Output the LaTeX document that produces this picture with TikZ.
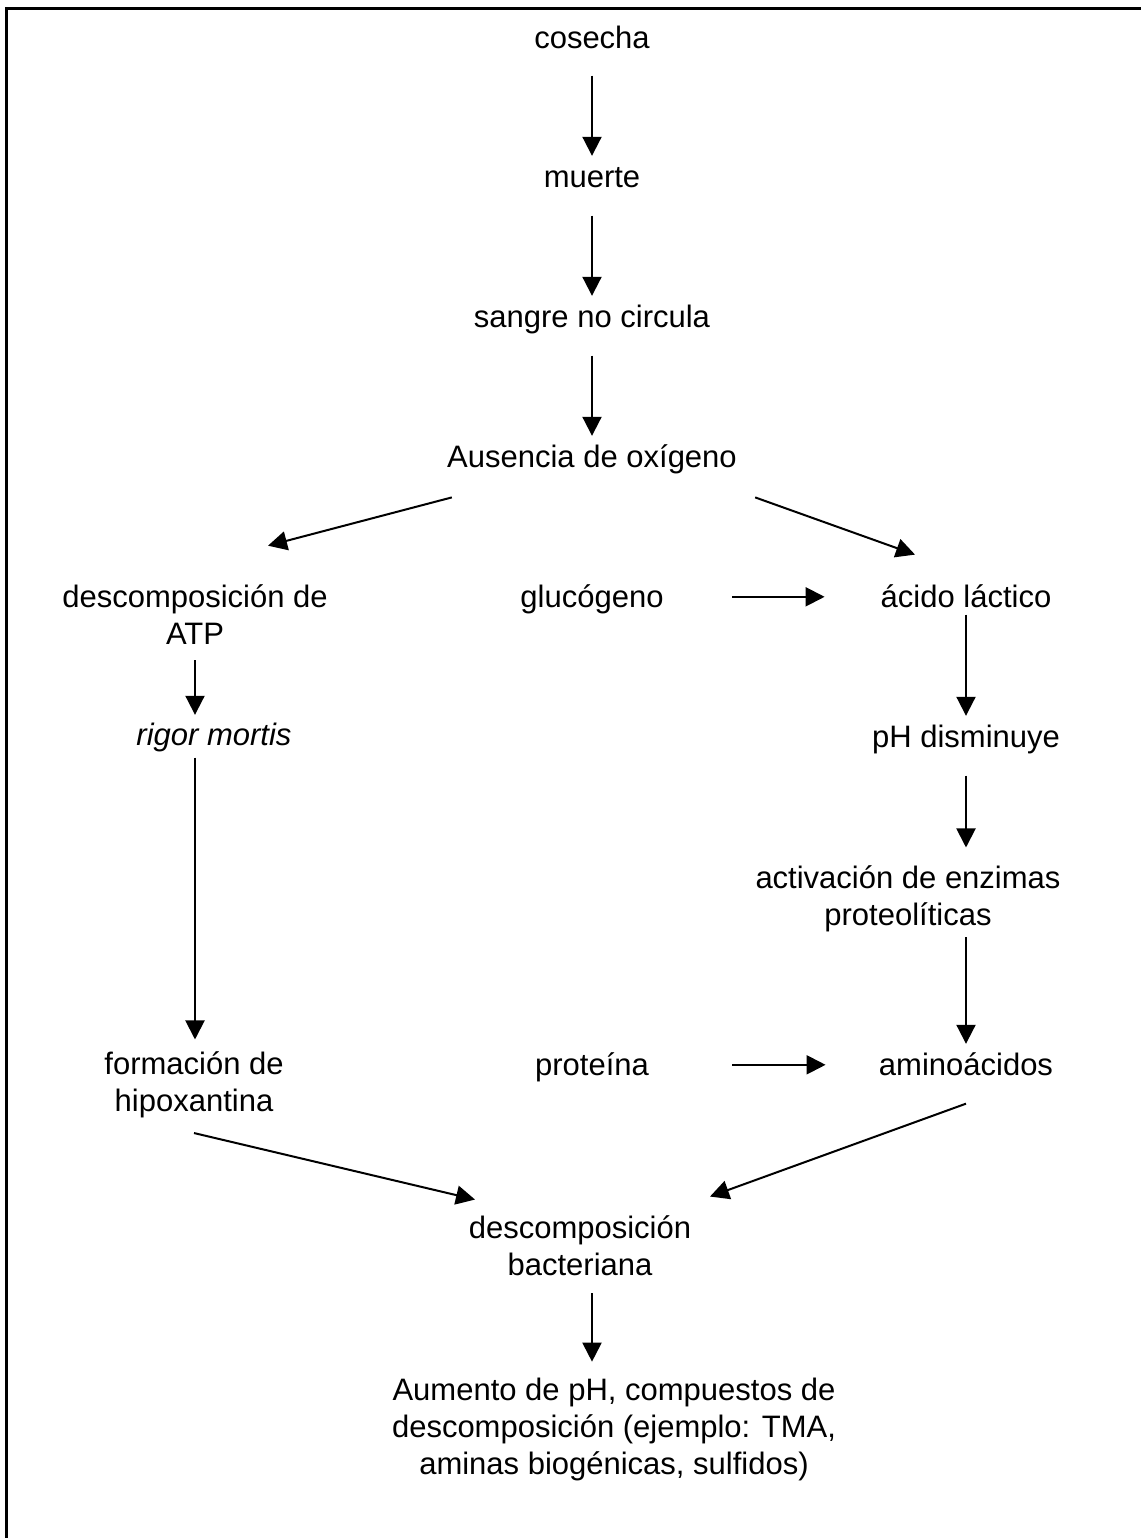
\documentclass[tikz,border=0pt]{standalone}
\usepackage{fontspec}
\setmainfont{Liberation Sans}
\usetikzlibrary{arrows.meta}

\tikzset{
  paso/.style={inner sep=0pt, text height=0.75em, text depth=0.25em, anchor=base},
  bloque/.style={inner sep=0pt, align=center},
  flecha/.style={line width=1pt, -{Triangle[length=9.5pt,width=9.5pt]}},
}

\begin{document}
\begin{tikzpicture}[x=0.5pt,y=-0.5pt,font=\fontsize{15.5}{18.5}\selectfont]
\useasboundingbox (0,0) rectangle (1141,1538);
% marco
\draw[line width=1.25pt] (6.5,1538) -- (6.5,8.5) -- (1141,8.5);

% columna central
\node[paso] (cosecha) at (592,48) {cosecha};
\node[paso] (muerte) at (592,187) {muerte};
\node[paso] (sangre) at (592,327) {sangre no circula};
\node[paso] (ausencia) at (592,467) {Ausencia de oxígeno};
\node[paso] (glucogeno) at (592,607) {glucógeno};
\node[paso] (proteina) at (592,1075) {proteína};
\node[bloque] (bacteriana) at (580,1246) {descomposición\\bacteriana};
\node[bloque] (aumento) at (614,1429.5) {Aumento de pH, compuestos de\\descomposición (ejemplo: TMA,\\aminas biogénicas, sulfidos)};

% columna izquierda
\node[bloque] (atp) at (195,615) {descomposición de\\ATP};
\node[paso] (rigor) at (214,745) {\textit{rigor mortis}};
\node[bloque] (hipoxantina) at (194,1085) {formación de\\hipoxantina};

% columna derecha
\node[paso] (acido) at (966,607) {ácido láctico};
\node[paso] (ph) at (966,747) {pH disminuye};
\node[bloque] (enzimas) at (908,899) {activación de enzimas\\proteolíticas};
\node[paso] (aminoacidos) at (966,1075) {aminoácidos};

% flechas
\draw[flecha,shorten <=11.1pt,shorten >=7.9pt] (cosecha.south) -- (muerte.north);
\draw[flecha,shorten <=11.6pt,shorten >=7.9pt] (muerte.south) -- (sangre.north);
\draw[flecha,shorten <=11.6pt,shorten >=7.9pt] (sangre.south) -- (ausencia.north);
\draw[flecha] ([shift={(5,25)}]ausencia.south west) -- ([shift={(73,-39)}]atp.north);
\draw[flecha] ([shift={(18,25)}]ausencia.south east) -- ([shift={(-51,-37)}]acido.north);
\draw[flecha,shorten <=34.25pt,shorten >=27.85pt] ([yshift=2.6pt]glucogeno.east) -- ([yshift=2.6pt]acido.west);
\draw[flecha,shorten <=7.5pt,shorten >=7.4pt] (atp.south) -- (atp.south |- rigor.north);
\draw[flecha,shorten <=3.6pt,shorten >=6pt] (rigor.south -| atp.south) -- (hipoxantina.north -| atp.south);
\draw[flecha,shorten <=1.1pt,shorten >=7.9pt] (acido.south) -- (ph.north);
\draw[flecha,shorten <=11.6pt,shorten >=9pt] (ph.south) -- (ph.south |- enzimas.north);
\draw[flecha,shorten <=2.25pt,shorten >=7.9pt] (enzimas.south -| aminoacidos.north) -- (aminoacidos.north);
\draw[flecha,shorten <=41.5pt,shorten >=26.5pt] ([yshift=2.6pt]proteina.east) -- ([yshift=2.6pt]aminoacidos.west);
\draw[flecha] ([shift={(0,14.5)}]hipoxantina.south) -- ([shift={(-105,-16)}]bacteriana.north);
\draw[flecha] ([shift={(0,23.25)}]aminoacidos.south) -- ([shift={(130,-19)}]bacteriana.north);
\draw[flecha,shorten <=8.5pt,shorten >=8pt] ([xshift=6pt]bacteriana.south) -- ([xshift=6pt]bacteriana.south |- aumento.north);
\end{tikzpicture}
\end{document}
